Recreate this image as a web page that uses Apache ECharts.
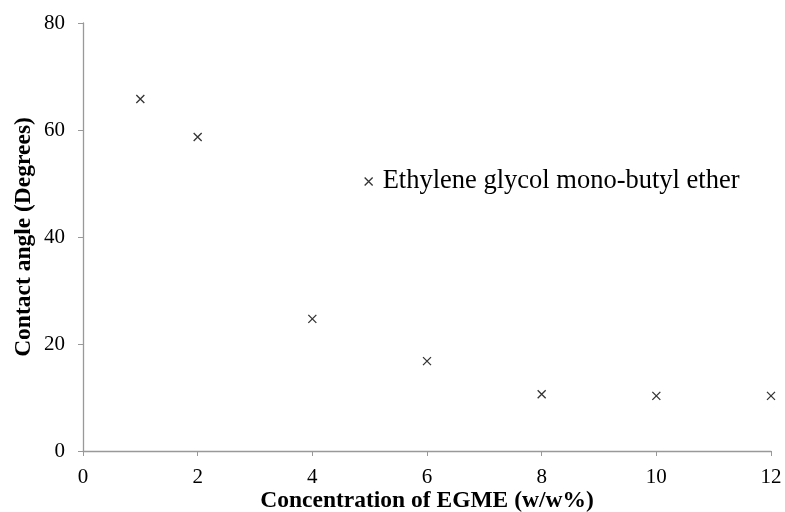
<!DOCTYPE html>
<html><head><meta charset="utf-8">
<script src="https://cdn.jsdelivr.net/npm/echarts@6/dist/echarts.min.js"></script>
<style>html,body{margin:0;padding:0;background:#fff}#c{width:785px;height:512px}</style>
</head><body><div id="c"></div>
<script>
const concentrations = [1, 2, 4, 6, 8, 10, 12];
const contactAngles = [65.8, 58.7, 24.7, 16.8, 10.6, 10.3, 10.3];
const xTicks = [0, 2, 4, 6, 8, 10, 12];
const yTicks = [0, 20, 40, 60, 80];
const seriesName = 'Ethylene glycol mono-butyl ether';
const font = '"Liberation Serif", "Times New Roman", serif';
const cross = 'path://M0,0L10,10M10,0L0,10';
const chart = echarts.init(document.getElementById('c'));
chart.setOption({
  animation: false,
  grid: {left: 83, right: 14, top: 23, bottom: 61, containLabel: false, outerBoundsMode: 'none'},
  legend: {
    left: 359, top: 163, itemWidth: 8, itemHeight: 8, itemGap: 5,
    textStyle: {fontFamily: font, fontSize: 26.5, color: '#000', padding: [0, 0, 0, 5]},
    data: [{name: seriesName, icon: cross, itemStyle: {color: 'transparent', borderColor: '#000', borderWidth: 1.3}}]
  },
  xAxis: {
    type: 'value', min: xTicks[0], max: xTicks[xTicks.length-1], interval: 2,
    name: 'Concentration of EGME (w/w%)', nameLocation: 'middle', nameGap: 38, nameMoveOverlap: false,
    nameTextStyle: {fontFamily: font, fontSize: 23.5, fontWeight: 'bold', color: '#000'},
    axisLine: {lineStyle: {color: '#999', width: 1.3}},
    axisTick: {show: true, length: 5, lineStyle: {color: '#999'}},
    axisLabel: {fontFamily: font, fontSize: 21, color: '#000', margin: 16},
    splitLine: {show: false}
  },
  yAxis: {
    type: 'value', min: yTicks[0], max: yTicks[yTicks.length-1], interval: 20,
    name: 'Contact angle (Degrees)', nameLocation: 'middle', nameGap: 47, nameMoveOverlap: false,
    nameTextStyle: {fontFamily: font, fontSize: 23.5, fontWeight: 'bold', color: '#000'},
    axisLine: {show: true, lineStyle: {color: '#999', width: 1.3}},
    axisTick: {show: true, length: 5, lineStyle: {color: '#999'}},
    axisLabel: {fontFamily: font, fontSize: 21, color: '#000', margin: 18},
    splitLine: {show: false}
  },
  series: [{
    name: seriesName, type: 'scatter', symbol: cross, symbolSize: 8,
    itemStyle: {color: 'transparent', borderColor: '#000', borderWidth: 1.3},
    data: concentrations.map((x, i) => [x, contactAngles[i]])
  }]
});
</script></body></html>
